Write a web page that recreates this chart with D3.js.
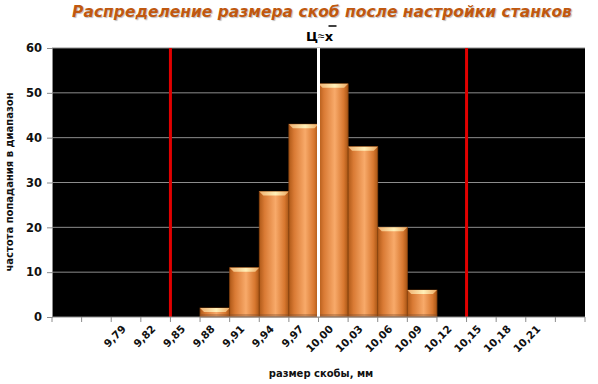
<!DOCTYPE html>
<html>
<head>
<meta charset="utf-8">
<script src="https://cdn.jsdelivr.net/npm/d3@7"></script>
<style>
  body { margin: 0; background: #fff; }
  text { font-family: "DejaVu Sans", sans-serif; }
</style>
</head>
<body>
<svg id="chart" width="598" height="384"></svg>
<script>
// categories (bins, mm) - first two and last one have no label
let categories = ["a", "b", "9,79", "9,82", "9,85", "9,88", "9,91", "9,94", "9,97",
  "10,00", "10,03", "10,06", "10,09", "10,12", "10,15", "10,18", "10,21", "c"];
let frequency = [0, 0, 0, 0, 0, 2, 11, 28, 43, 52, 38, 20, 6, 0, 0, 0, 0, 0];
let yTicks = [0, 10, 20, 30, 40, 50, 60];
// vertical markers : category + side of band
let limitLines = [
  { cat: "9,85", side: "left", color: "#e00000" },
  { cat: "10,12", side: "right", color: "#e00000" }
];
let centerLine = { cat: "10,00", side: "left", color: "#ffffff" };

let svg = d3.select("#chart");
let margin = { left: 52, right: 13, top: 48, bottom: 67 };
let width = 598 - margin.left - margin.right;
let height = 384 - margin.top - margin.bottom;

let x = d3.scaleBand().domain(categories).range([margin.left, margin.left + width]).padding(0);
let y = d3.scaleLinear().domain([0, 60]).range([margin.top + height, margin.top]);

// gradient for the bars
let defs = svg.append("defs");
let grad = defs.append("linearGradient").attr("id", "barGrad")
  .attr("x1", "0").attr("x2", "1").attr("y1", "0").attr("y2", "0");
grad.append("stop").attr("offset", "0%").attr("stop-color", "#b05a18");
grad.append("stop").attr("offset", "18%").attr("stop-color", "#d97a34");
grad.append("stop").attr("offset", "55%").attr("stop-color", "#f8aa6a");
grad.append("stop").attr("offset", "85%").attr("stop-color", "#d87830");
grad.append("stop").attr("offset", "100%").attr("stop-color", "#a85514");

let topGrad = defs.append("linearGradient").attr("id", "topGrad")
  .attr("x1", "0").attr("x2", "1").attr("y1", "0").attr("y2", "0");
topGrad.append("stop").attr("offset", "0%").attr("stop-color", "#f0b070");
topGrad.append("stop").attr("offset", "55%").attr("stop-color", "#fff0b8");
topGrad.append("stop").attr("offset", "100%").attr("stop-color", "#eca862");

// title
svg.append("text")
  .attr("x", 322).attr("y", 17)
  .attr("text-anchor", "middle")
  .attr("font-family", "'Open Sans', sans-serif")
  .attr("font-weight", "bold")
  .attr("font-style", "italic")
  .attr("font-size", "15.5px")
  .attr("fill", "#c0580f")
  .style("text-shadow", "1px 1px 1px rgba(0,0,0,0.25)")
  .text("Распределение размера скоб после настройки станков");

// plot area
svg.append("rect")
  .attr("x", margin.left).attr("y", margin.top)
  .attr("width", width).attr("height", height)
  .attr("fill", "#000");

// grid lines
svg.append("g").selectAll("line")
  .data(yTicks.filter(d => d > 0))
  .enter().append("line")
  .attr("x1", margin.left).attr("x2", margin.left + width)
  .attr("y1", d => y(d)).attr("y2", d => y(d))
  .attr("stroke", "#8c8c8c").attr("stroke-width", 1);

// bars
let bars = svg.append("g").selectAll("g.bar")
  .data(categories.map((c, i) => ({ cat: c, v: frequency[i] })).filter(d => d.v > 0))
  .enter().append("g").attr("class", "bar");

bars.append("rect")
  .attr("x", d => x(d.cat))
  .attr("y", d => y(d.v))
  .attr("width", x.bandwidth())
  .attr("height", d => y(0) - y(d.v))
  .attr("fill", "url(#barGrad)")
  .attr("stroke", "#8a4510").attr("stroke-width", 0.8);

// top bevel
bars.append("path")
  .attr("d", d => {
    let x0 = x(d.cat), x1 = x0 + x.bandwidth(), t = y(d.v);
    let h = Math.min(4, (y(0) - y(d.v)) / 2);
    return `M${x0},${t}L${x1},${t}L${x1 - 4},${t + h}L${x0 + 4},${t + h}Z`;
  })
  .attr("fill", "url(#topGrad)");

// bottom shading
bars.append("rect")
  .attr("x", d => x(d.cat) + 0.5)
  .attr("y", y(0) - 3)
  .attr("width", x.bandwidth() - 1)
  .attr("height", 3)
  .attr("fill", "#7a4a2a").attr("opacity", 0.35);

// marker lines
function lineX(m) {
  return m.side === "left" ? x(m.cat) : x(m.cat) + x.bandwidth();
}
svg.append("g").selectAll("line")
  .data(limitLines.concat([centerLine]))
  .enter().append("line")
  .attr("x1", d => lineX(d)).attr("x2", d => lineX(d))
  .attr("y1", margin.top).attr("y2", margin.top + height)
  .attr("stroke", d => d.color).attr("stroke-width", 3);

// label for center line
let cx = lineX(centerLine);
let lab = svg.append("text")
  .attr("x", cx + 1).attr("y", 41)
  .attr("text-anchor", "middle")
  .attr("font-family", "'DejaVu Sans', sans-serif")
  .attr("font-weight", "bold")
  .attr("font-size", "13px")
  .attr("fill", "#000");
lab.append("tspan").text("Ц");
lab.append("tspan").attr("font-family", "'Noto Sans', sans-serif")
  .attr("font-size", "12px").attr("font-weight", "normal").attr("dy", -1).text("≈");
lab.append("tspan").attr("dy", 1).text("x");
svg.append("line")
  .attr("x1", cx + 10).attr("x2", cx + 18)
  .attr("y1", 26).attr("y2", 26)
  .attr("stroke", "#000").attr("stroke-width", 1.5);

// y axis
let yAxis = svg.append("g")
  .attr("transform", `translate(${margin.left},0)`)
  .call(d3.axisLeft(y).tickValues(yTicks).tickSize(5).tickPadding(5));
yAxis.select(".domain").attr("stroke", "#8c8c8c");
yAxis.selectAll(".tick line").attr("stroke", "#8c8c8c");
yAxis.selectAll(".tick text")
  .attr("font-family", "'DejaVu Sans', sans-serif")
  .attr("font-size", "11.5px").attr("font-weight", "bold").attr("fill", "#111");

// x axis - ticks on band boundaries
let xAxisG = svg.append("g")
  .attr("transform", `translate(0,${margin.top + height})`);
xAxisG.append("line")
  .attr("x1", margin.left).attr("x2", margin.left + width)
  .attr("stroke", "#8c8c8c");
xAxisG.selectAll("line.tk")
  .data(categories.concat(["end"]))
  .enter().append("line").attr("class", "tk")
  .attr("x1", (d, i) => i < categories.length ? x(d) : margin.left + width)
  .attr("x2", (d, i) => i < categories.length ? x(d) : margin.left + width)
  .attr("y1", 0).attr("y2", 5)
  .attr("stroke", "#8c8c8c");
xAxisG.selectAll("text")
  .data(categories.filter(c => c.indexOf(",") > 0))
  .enter().append("text")
  .attr("transform", d => `translate(${x(d) + x.bandwidth() / 2 - 2},${10}) rotate(-45)`)
  .attr("text-anchor", "end")
  .attr("dy", "0.35em")
  .attr("font-family", "'DejaVu Sans', sans-serif")
  .attr("font-size", "10.5px").attr("font-weight", "bold").attr("fill", "#111")
  .text(d => d);

// axis titles
svg.append("text")
  .attr("x", 321).attr("y", 377)
  .attr("text-anchor", "middle")
  .attr("font-family", "'DejaVu Sans', sans-serif")
  .attr("font-size", "10px").attr("font-weight", "bold").attr("fill", "#111")
  .text("размер скобы, мм");

svg.append("text")
  .attr("transform", `translate(13,${182}) rotate(-90)`)
  .attr("text-anchor", "middle")
  .attr("font-family", "'DejaVu Sans', sans-serif")
  .attr("font-size", "10px").attr("font-weight", "bold").attr("fill", "#111")
  .text("частота  попадания  в диапазон");
</script>
</body>
</html>
